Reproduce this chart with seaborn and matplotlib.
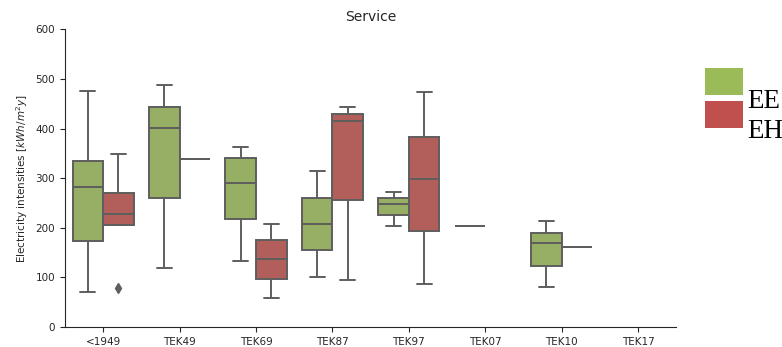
import matplotlib
matplotlib.use("Agg")
import matplotlib.pyplot as plt
import matplotlib.patches as mpatches
import seaborn as sns
import pandas as pd

categories = ["<1949", "TEK49", "TEK69", "TEK87", "TEK97", "TEK07", "TEK10", "TEK17"]
hues = ["EE", "EH"]
colors = {"EE": "#9bbb59", "EH": "#c0504d"}

# sample values per (category, type) chosen to reproduce the boxes in the picture
ee_1949 = [70, 174, 282, 335, 475]
eh_1949 = [78, 205, 205, 210, 228, 250, 270, 300, 349]
ee_tek49 = [119, 261, 402, 443, 488]
eh_tek49 = [338]
ee_tek69 = [133, 217, 290, 340, 363]
eh_tek69 = [58, 97, 137, 175, 207]
ee_tek87 = [101, 155, 207, 260, 314]
eh_tek87 = [95, 256, 415, 429, 443]
ee_tek97 = [203, 225, 248, 260, 272]
eh_tek97 = [86, 193, 298, 384, 473]
ee_tek07 = [203]
ee_tek10 = [80, 123, 170, 190, 213]
eh_tek10 = [162]

groups = [
    ("<1949", "EE", ee_1949), ("<1949", "EH", eh_1949),
    ("TEK49", "EE", ee_tek49), ("TEK49", "EH", eh_tek49),
    ("TEK69", "EE", ee_tek69), ("TEK69", "EH", eh_tek69),
    ("TEK87", "EE", ee_tek87), ("TEK87", "EH", eh_tek87),
    ("TEK97", "EE", ee_tek97), ("TEK97", "EH", eh_tek97),
    ("TEK07", "EE", ee_tek07),
    ("TEK10", "EE", ee_tek10), ("TEK10", "EH", eh_tek10),
]
rows = []
for cat, h, vals in groups:
    for v in vals:
        rows.append({"TEK": cat, "type": h, "value": v})
df = pd.DataFrame(rows)

sns.set_style("ticks")
fig, ax = plt.subplots(figsize=(7.82, 3.47), dpi=100)
fig.subplots_adjust(left=0.083, right=0.865, top=0.915, bottom=0.058)

lc = "#5e5e5e"
sns.boxplot(data=df, x="TEK", y="value", hue="type", order=categories,
            hue_order=hues, palette=colors, width=0.8, saturation=0.75,
            linecolor=lc, linewidth=1.4,
            flierprops=dict(marker="d", markerfacecolor=lc,
                            markeredgecolor=lc, markersize=5),
            legend=False, ax=ax)

ax.set_ylim(0, 600)
ax.set_yticks([0, 100, 200, 300, 400, 500, 600])
ax.set_xlabel("")
ax.set_ylabel("Electricity intensities [$kWh/m^2y$]", fontsize=7.5)
ax.set_title("Service", fontsize=10)
ax.tick_params(labelsize=7.5, length=3.5)
sns.despine(ax=ax)

# legend: colour keys and labels placed in figure pixels as in the reference
W, H = 782.0, 347.0
key_tops = [67.7, 101.0]
key_h = 27.0
text_base = [108.3, 137.7]
for h, top, base in zip(hues, key_tops, text_base):
    fig.add_artist(mpatches.Rectangle((705 / W, 1 - (top + key_h) / H), 37.5 / W, key_h / H,
                                      transform=fig.transFigure, facecolor=colors[h],
                                      edgecolor="none"))
    fig.text(747 / W, 1 - base / H, h, ha="left", va="baseline",
             family="Liberation Serif", fontsize=19.5, color="black")

fig.savefig("out.png", dpi=100)
